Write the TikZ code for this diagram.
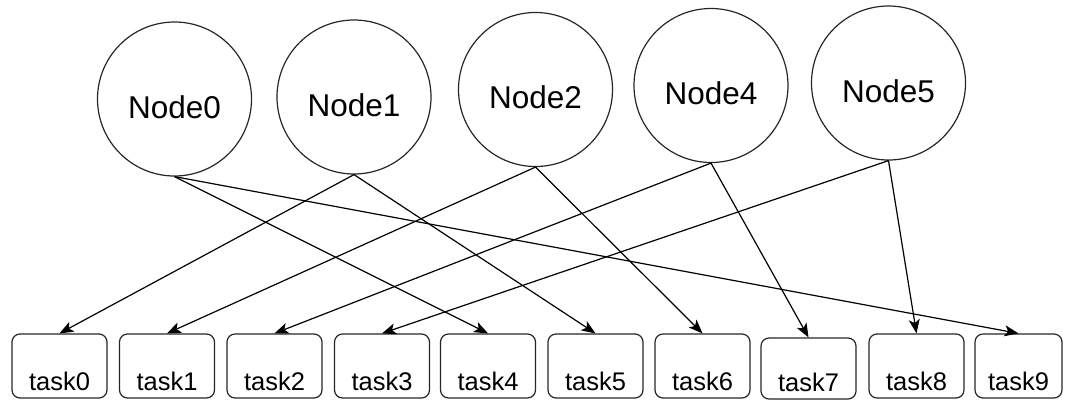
\documentclass[tikz,border=0pt]{standalone}
\usepackage{fontspec}
\setmainfont{Liberation Sans}
\usetikzlibrary{arrows.meta}
\begin{document}
\begin{tikzpicture}[x=1pt,y=-1pt,
  procnode/.style={circle, draw=black!85, line width=1.2pt, minimum size=154pt, inner sep=0pt,
    font=\fontsize{31.5}{36}\selectfont, text height=38.6pt, text depth=0pt},
  taskbox/.style={rectangle, rounded corners=8pt, draw=black!85, line width=1.2pt,
    minimum width=95pt, minimum height=64pt, inner sep=0pt,
    font=\fontsize{25.5}{30}\selectfont, text height=48pt, text depth=0pt},
  arr/.style={draw=black, line width=1.2pt, -{Stealth[length=14pt,width=11pt,inset=3.5pt]}}]
\useasboundingbox (0,0) rectangle (1065,400);
% processing nodes
\node[procnode] (n0) at (174.5,99) {Node0};
\node[procnode] (n1) at (354,97) {Node1};
\node[procnode] (n2) at (535.5,89.5) {Node2};
\node[procnode] (n4) at (711,85.5) {Node4};
\node[procnode] (n5) at (888.5,83) {Node5};
% tasks
\node[taskbox] (t0) at (59.5,366) {task0};
\node[taskbox] (t1) at (167,366) {task1};
\node[taskbox] (t2) at (274.5,366) {task2};
\node[taskbox] (t3) at (382,366) {task3};
\node[taskbox] (t4) at (488,366) {task4};
\node[taskbox] (t5) at (595.5,366) {task5};
\node[taskbox] (t6) at (702.5,366) {task6};
\node[taskbox, minimum height=61pt, text height=46.5pt] (t7) at (808.5,368.5) {task7};
\node[taskbox] (t8) at (916.5,366) {task8};
\node[taskbox, minimum width=87pt] (t9) at (1018.5,366) {task9};
% connectors
\draw[arr] (n0.south) -- (t4.north);
\draw[arr] (n0.south) -- (t9.north);
\draw[arr] (n1.south) -- (t0.north);
\draw[arr] (n1.south) -- (t5.north);
\draw[arr] (n2.south) -- (t1.north);
\draw[arr] (n2.south) -- (t6.north);
\draw[arr] (n4.south) -- (t2.north);
\draw[arr] (n4.south) -- (t7.north);
\draw[arr] (n5.south) -- (t3.north);
\draw[arr] (n5.south) -- (t8.north);
\end{tikzpicture}
\end{document}
